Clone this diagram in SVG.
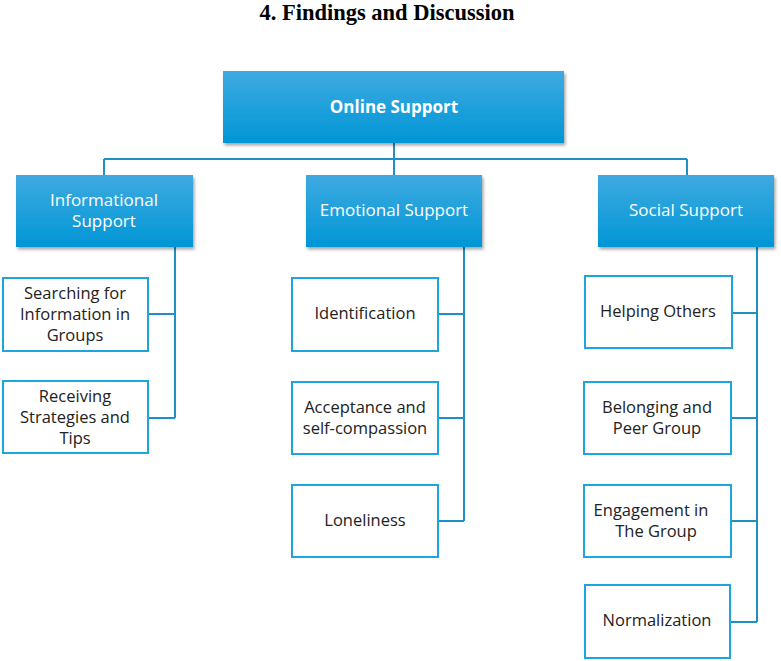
<svg xmlns="http://www.w3.org/2000/svg" width="781" height="661" viewBox="0 0 781 661">
<defs>
<linearGradient id="blue" x1="0" y1="0" x2="0" y2="1">
<stop offset="0" stop-color="#3FAAE0"/>
<stop offset="1" stop-color="#0096D6"/>
</linearGradient>
<filter id="sh" x="-10%" y="-10%" width="125%" height="140%">
<feDropShadow dx="1.5" dy="2.5" stdDeviation="1.8" flood-color="#000" flood-opacity="0.35"/>
</filter>
<style>
.hd{fill:url(#blue);filter:url(#sh)}
.bx{fill:#fff;stroke:#1EA5DE;stroke-width:2}
.ht{font-family:"Open Sans","Liberation Sans",sans-serif;font-size:17px;fill:#fff;text-anchor:middle}
.bt{font-family:"Open Sans","Liberation Sans",sans-serif;font-size:16.5px;fill:#222;text-anchor:middle}
.cn{fill:none;stroke:#1F8FC6;stroke-width:2}
</style>
</defs>
<rect width="781" height="661" fill="#fff"/>
<text x="387" y="20" font-family="Liberation Serif,serif" font-weight="bold" font-size="22.5" text-anchor="middle" fill="#000">4. Findings and Discussion</text>
<g id="connectors">
<path class="cn" d="M394 143V175M104 159H687M104 159V175M687 159V175"/>
<path class="cn" d="M175 247V418M148 314H175M148 418H175"/>
<path class="cn" d="M464 247V521M438 314H464M438 418H464M438 521H464"/>
<path class="cn" d="M757 247V622M732 313H757M731 418H757M731 521H757M730 622H757"/>
</g>
<g id="online">
<rect class="hd" x="223" y="71" width="341" height="72"/>
<text class="ht" x="394" y="113" font-weight="bold">Online Support</text>
</g>
<g id="informational">
<rect class="hd" x="16" y="175" width="177" height="72"/>
<text class="ht" x="104" y="206">Informational</text>
<text class="ht" x="104" y="227">Support</text>
</g>
<g id="emotional">
<rect class="hd" x="306" y="175" width="176" height="72"/>
<text class="ht" x="394" y="216">Emotional Support</text>
</g>
<g id="social">
<rect class="hd" x="598" y="175" width="176" height="72"/>
<text class="ht" x="686" y="216">Social Support</text>
</g>
<g id="searching">
<rect class="bx" x="3" y="278" width="145" height="73"/>
<text class="bt" x="75" y="299">Searching for</text>
<text class="bt" x="75" y="320">Information in</text>
<text class="bt" x="75" y="341">Groups</text>
</g>
<g id="receiving">
<rect class="bx" x="3" y="381" width="145" height="72"/>
<text class="bt" x="75" y="402">Receiving</text>
<text class="bt" x="75" y="423">Strategies and</text>
<text class="bt" x="75" y="444">Tips</text>
</g>
<g id="identification">
<rect class="bx" x="292" y="278" width="146" height="73"/>
<text class="bt" x="365" y="319">Identification</text>
</g>
<g id="acceptance">
<rect class="bx" x="292" y="382" width="146" height="72"/>
<text class="bt" x="365" y="413">Acceptance and</text>
<text class="bt" x="365" y="434">self-compassion</text>
</g>
<g id="loneliness">
<rect class="bx" x="292" y="485" width="146" height="72"/>
<text class="bt" x="365" y="526">Loneliness</text>
</g>
<g id="helping">
<rect class="bx" x="585" y="276" width="147" height="72"/>
<text class="bt" x="658" y="317">Helping Others</text>
</g>
<g id="belonging">
<rect class="bx" x="584" y="382" width="147" height="72"/>
<text class="bt" x="657" y="413">Belonging and</text>
<text class="bt" x="657" y="434">Peer Group</text>
</g>
<g id="engagement">
<rect class="bx" x="584" y="485" width="147" height="72"/>
<text class="bt" x="651" y="516">Engagement in</text>
<text class="bt" x="656" y="537">The Group</text>
</g>
<g id="normalization">
<rect class="bx" x="585" y="585" width="145" height="73"/>
<text class="bt" x="657" y="626">Normalization</text>
</g>
</svg>
